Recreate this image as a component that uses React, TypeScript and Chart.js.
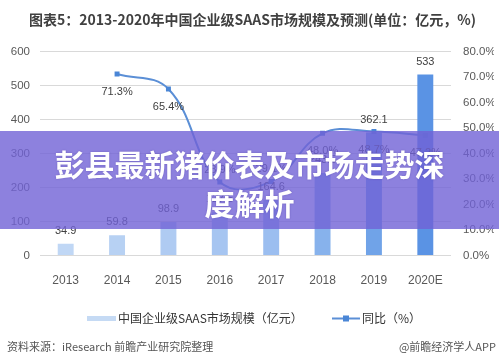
import React, { useEffect, useRef } from "react";
import { Chart, registerables } from "chart.js";

Chart.register(...registerables);

const categories = ["2013", "2014", "2015", "2016", "2017", "2018", "2019", "2020E"];
const marketSize = [34.9, 59.8, 98.9, 127.5, 164.6, 243.5, 362.1, 533];
const growthRate = [null, 71.3, 65.4, 28.9, 29.1, 48.0, 48.7, 47.2];
const leftTicks = [0, 100, 200, 300, 400, 500, 600];
const rightTicks = [0, 10, 20, 30, 40, 50, 60, 70, 80];

const barColors = ["#c0d7f5", "#b7d1f3", "#afcbf2", "#a6c5f1", "#9bbef0", "#87b2ec", "#70a3e8", "#5a93e4"];
const lineLabelPlacement = ["below", "below", "below", "above", "above", "below", "below", "below"];
const LINE_COLOR = "#5b8fd6";
const POINT_COLOR = "#4a86d6";
const NUM_FONT = '"Liberation Sans", "Noto Sans CJK SC", sans-serif';
const CJK_FONT = '"Noto Sans CJK SC", "Liberation Sans", sans-serif';

const labelsPlugin = {
  id: "valueLabels",
  afterDatasetsDraw(chart: any) {
    const ctx = chart.ctx;
    ctx.save();
    ctx.font = `11px ${NUM_FONT}`;
    ctx.fillStyle = "#404040";
    ctx.textAlign = "center";
    ctx.textBaseline = "middle";
    const barMeta = chart.getDatasetMeta(0);
    barMeta.data.forEach((el: any, i: number) => {
      ctx.fillText(String(marketSize[i]), el.x, el.y - 13);
    });
    const lineMeta = chart.getDatasetMeta(1);
    lineMeta.data.forEach((el: any, i: number) => {
      const v = growthRate[i];
      if (v === null || el.skip) return;
      const dy = lineLabelPlacement[i] === "below" ? 18 : -12;
      ctx.fillText(v.toFixed(1) + "%", el.x, el.y + dy);
    });
    ctx.restore();
  },
  afterDraw(chart: any) {
    const ctx = chart.ctx;
    ctx.save();
    const ly = 318.5;
    ctx.fillStyle = "#c5daf4";
    ctx.fillRect(87, 316, 29, 5);
    ctx.font = `12px ${CJK_FONT}`;
    ctx.fillStyle = "#333333";
    ctx.textBaseline = "middle";
    ctx.textAlign = "left";
    ctx.fillText(chart.data.datasets[0].label, 118, ly);
    ctx.strokeStyle = LINE_COLOR;
    ctx.lineWidth = 2;
    ctx.beginPath();
    ctx.moveTo(332, ly);
    ctx.lineTo(360, ly);
    ctx.stroke();
    ctx.fillStyle = POINT_COLOR;
    ctx.fillRect(343, ly - 3, 6, 6);
    ctx.fillStyle = "#333333";
    ctx.fillText(chart.data.datasets[1].label, 362, ly);
    ctx.restore();
  },
};

export default function App() {
  const canvasRef = useRef<HTMLCanvasElement | null>(null);

  useEffect(() => {
    if (!canvasRef.current) return;
    const chart = new Chart(canvasRef.current, {
      type: "bar",
      data: {
        labels: categories,
        datasets: [
          {
            type: "bar",
            label: "中国企业级SAAS市场规模（亿元）",
            data: marketSize,
            backgroundColor: barColors,
            borderWidth: 0,
            barPercentage: 0.31,
            categoryPercentage: 1,
            yAxisID: "y",
            order: 2,
          },
          {
            type: "line",
            label: "同比（%）",
            data: growthRate as any,
            borderColor: LINE_COLOR,
            borderWidth: 2,
            tension: 0.4,
            pointStyle: "rect",
            pointRadius: 3.5,
            pointBackgroundColor: POINT_COLOR,
            pointBorderWidth: 0,
            yAxisID: "y1",
            order: 1,
          },
        ],
      },
      options: {
        responsive: false,
        animation: false,
        layout: { padding: { left: 11, right: 5, top: 0, bottom: 65 } },
        plugins: {
          legend: { display: false },
          tooltip: { enabled: false },
          title: {
            display: true,
            text: "图表5：2013-2020年中国企业级SAAS市场规模及预测(单位：亿元，%)",
            color: "#404040",
            font: { size: 14, weight: "bold", family: CJK_FONT },
            padding: { top: 11, bottom: 24 },
          },
        },
        scales: {
          x: {
            grid: { display: false },
            border: { display: false },
            ticks: { color: "#595959", font: { size: 12, family: NUM_FONT }, padding: 10 },
          },
          y: {
            position: "left",
            min: 0,
            max: 600,
            afterBuildTicks: (axis: any) => {
              axis.ticks = leftTicks.map((v) => ({ value: v }));
            },
            afterFit: (axis: any) => {
              axis.width = 29;
            },
            grid: { color: "#d9d9d9", drawTicks: false, lineWidth: 1 },
            border: { display: false },
            ticks: { color: "#595959", font: { size: 11.5, family: NUM_FONT }, padding: 10 },
          },
          y1: {
            position: "right",
            min: 0,
            max: 80,
            afterBuildTicks: (axis: any) => {
              axis.ticks = rightTicks.map((v) => ({ value: v }));
            },
            afterFit: (axis: any) => {
              axis.width = 43;
            },
            grid: { display: false, drawTicks: false },
            border: { display: false },
            ticks: {
              color: "#595959",
              font: { size: 11.5, family: NUM_FONT },
              padding: 12,
              callback: (v: any) => Number(v).toFixed(1) + "%",
            },
          },
        },
      },
      plugins: [labelsPlugin],
    });
    return () => chart.destroy();
  }, []);

  return (
    <div style={{ position: "fixed", left: 0, top: 0, width: 499, height: 363, background: "#ffffff", overflow: "hidden" }}>
      <canvas ref={canvasRef} width={499} height={363} style={{ position: "absolute", left: 0, top: 0, width: 499, height: 363 }} />
      <div
        style={{
          position: "absolute",
          left: 0,
          top: 131,
          width: 499,
          height: 98,
          boxSizing: "border-box",
          padding: "13px 45px 0 45px",
          background: "rgba(112, 98, 214, 0.8)",
          color: "#ffffff",
          fontFamily: CJK_FONT,
          fontWeight: 700,
          fontSize: 30,
          lineHeight: "39px",
          textAlign: "center",
          textShadow: "0 0 2px rgba(60,40,140,0.4)",
        }}
      >
        彭县最新猪价表及市场走势深度解析
      </div>
      <div
        style={{
          position: "absolute",
          left: 7,
          top: 338,
          fontFamily: CJK_FONT,
          fontSize: 11,
          lineHeight: "16px",
          color: "#555555",
          whiteSpace: "nowrap",
        }}
      >
        资料来源：iResearch 前瞻产业研究院整理
      </div>
      <div
        style={{
          position: "absolute",
          right: 3,
          top: 338,
          fontFamily: CJK_FONT,
          fontSize: 11,
          lineHeight: "16px",
          color: "#555555",
          whiteSpace: "nowrap",
        }}
      >
        @前瞻经济学人APP
      </div>
    </div>
  );
}
